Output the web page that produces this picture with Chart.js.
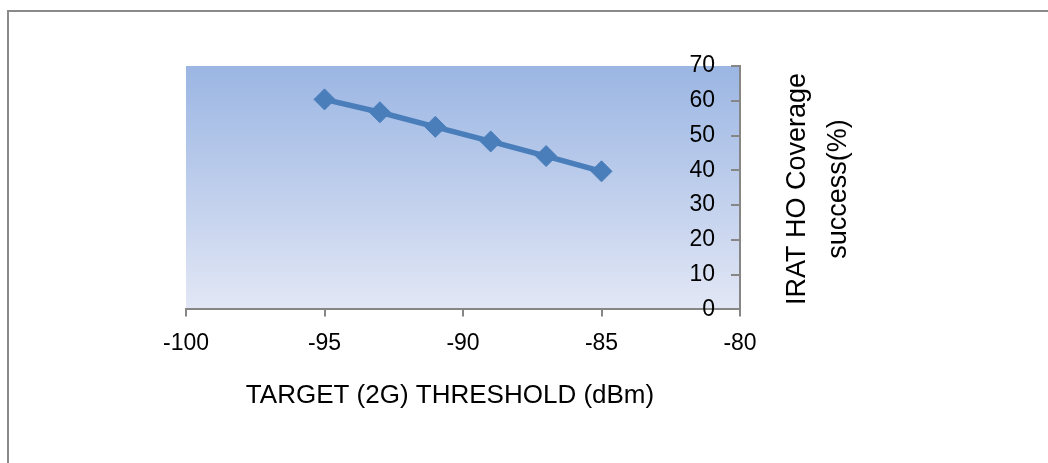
<!DOCTYPE html>
<html>
<head>
<meta charset="utf-8">
<script src="https://cdn.jsdelivr.net/npm/chart.js@4"></script>
<style>
  html, body { margin: 0; padding: 0; background: #fff; }
  canvas { display: block; }
</style>
</head>
<body>
<canvas id="c" width="1048" height="463"></canvas>
<script>
const thresholds = [-95, -93, -91, -89, -87, -85];
const coverage = [60.4, 56.7, 52.5, 48.3, 44.1, 39.7];
const xTitle = 'TARGET (2G) THRESHOLD (dBm)';
const yTitleLines = ['IRAT HO Coverage', 'success(%)'];

const FONT = '"Liberation Sans", Arial, sans-serif';
const AXIS_GREY = '#868686';

const decor = {
  id: 'decor',
  beforeDraw(chart) {
    const ctx = chart.ctx;
    const a = chart.chartArea;
    ctx.save();
    ctx.fillStyle = '#8a8a8a';
    ctx.fillRect(7, 10, chart.width - 7, 2);
    ctx.fillRect(7, 10, 2, chart.height - 10);
    const g = ctx.createLinearGradient(0, a.top, 0, a.bottom);
    g.addColorStop(0, 'rgb(155,182,227)');
    g.addColorStop(0.5, 'rgb(190,206,236)');
    g.addColorStop(1, 'rgb(226,231,245)');
    ctx.fillStyle = g;
    ctx.fillRect(a.left, a.top, a.right - a.left, a.bottom - a.top);
    ctx.restore();
  },
  afterDraw(chart) {
    const ctx = chart.ctx;
    ctx.save();
    ctx.fillStyle = '#000';
    ctx.font = '26px ' + FONT;
    ctx.textAlign = 'center';
    ctx.textBaseline = 'alphabetic';
    ctx.fillText(xTitle, 450, 403);
    ctx.font = '27px ' + FONT;
    ctx.translate(805, 189);
    ctx.rotate(-Math.PI / 2);
    yTitleLines.forEach((t, i) => ctx.fillText(t, 0, i * 41));
    ctx.restore();
  }
};

new Chart(document.getElementById('c'), {
  type: 'line',
  data: {
    datasets: [{
      data: thresholds.map((x, i) => ({ x: x, y: coverage[i] })),
      borderColor: '#4a7ebb',
      backgroundColor: '#4a7ebb',
      borderWidth: 5.5,
      pointStyle: 'rectRot',
      pointRadius: 10.5,
      pointBorderWidth: 1,
      pointBorderColor: '#4a7ebb',
      pointBackgroundColor: '#4a7ebb',
      fill: false,
      tension: 0
    }]
  },
  options: {
    responsive: false,
    animation: false,
    events: [],
    layout: { padding: { left: 186, right: 308, top: 66, bottom: 93 } },
    plugins: { legend: { display: false }, tooltip: { enabled: false } },
    scales: {
      x: {
        type: 'linear',
        position: 'bottom',
        min: -100, max: -80,
        ticks: { stepSize: 5, color: '#000', font: { family: FONT, size: 23 }, padding: 13 },
        grid: { drawOnChartArea: false, drawTicks: true, tickLength: 7, tickColor: AXIS_GREY, lineWidth: 2 },
        border: { display: true, color: AXIS_GREY, width: 2 }
      },
      y: {
        type: 'linear',
        position: 'right',
        min: 0, max: 70,
        afterFit(scale) { scale.width = 0; },
        ticks: { stepSize: 10, mirror: true, color: '#000', font: { family: FONT, size: 23 }, padding: -25 },
        grid: { drawOnChartArea: false, drawTicks: false },
        border: { display: false }
      },
      yLine: {
        type: 'linear',
        position: { x: -80 },
        min: 0, max: 70,
        ticks: { stepSize: 10, display: false },
        grid: { drawOnChartArea: false, drawTicks: true, tickLength: 8, tickColor: AXIS_GREY, lineWidth: 2 },
        border: { display: true, color: AXIS_GREY, width: 2 }
      }
    }
  },
  plugins: [decor]
});
</script>
</body>
</html>
